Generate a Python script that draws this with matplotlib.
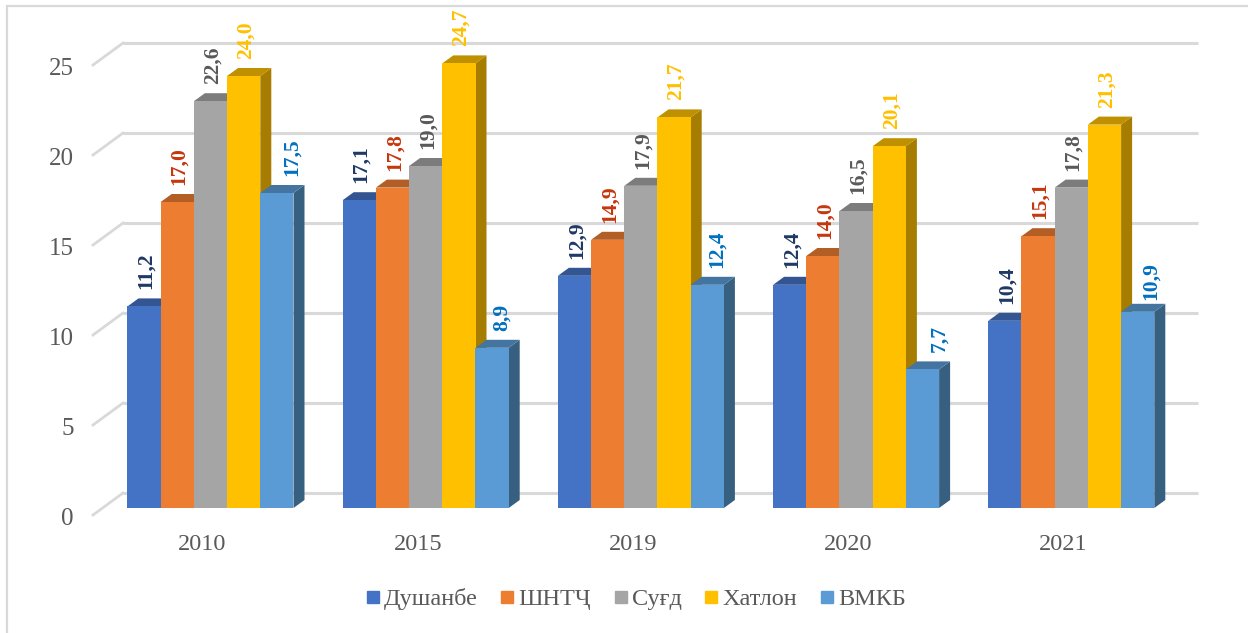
import matplotlib
matplotlib.use("Agg")
import matplotlib.pyplot as plt
from matplotlib.patches import Polygon, Rectangle
from matplotlib.lines import Line2D

years = ['2010', '2015', '2019', '2020', '2021']
regions = ['Душанбе', 'ШНТҶ', 'Суғд', 'Хатлон', 'ВМКБ']
dushanbe = [11.2, 17.1, 12.9, 12.4, 10.4]
shntch = [17.0, 17.8, 14.9, 14.0, 15.1]
sughd = [22.6, 19.0, 17.9, 16.5, 17.8]
khatlon = [24.0, 24.7, 21.7, 20.1, 21.3]
vmkb = [17.5, 8.9, 12.4, 7.7, 10.9]
series = [dushanbe, shntch, sughd, khatlon, vmkb]
yticks = [0, 5, 10, 15, 20, 25]

front = ['#4472C4', '#ED7D31', '#A5A5A5', '#FFC000', '#5B9BD5']
top = ['#335693', '#B25E25', '#7C7C7C', '#BF9000', '#4475A0']
side = ['#294575', '#8E4B1D', '#636363', '#A67D00', '#375F80']
label_colors = ['#1F3864', '#C5370D', '#595959', '#FFC000', '#0070C0']
grey = '#595959'

plt.rcParams['font.family'] = ['Liberation Serif', 'DejaVu Serif']

W, H = 1248, 633
fig = plt.figure(figsize=(W / 100, H / 100), dpi=100)
ax = fig.add_axes([0, 0, 1, 1])

# one category = 215.2 px, one y unit = 18 px
px_x = 1 / 215.2
px_y = 1 / 18
x0_px, y0_px = 210.5, 508
ax.set_xlim(-x0_px * px_x, (W - x0_px) * px_x)
ax.set_ylim(-(H - y0_px) * px_y, y0_px * px_y)
ax.axis('off')

bar_w = 33.2 * px_x
dx, dy = 11 * px_x, 8 * px_y

# the last series has its labels pushed right of the bar, by a different amount per year
vmkb_shift = [15, 10, 10, 17, 13]

# outer frame of the picture
fig.add_artist(Rectangle((7 / W, -0.02), 1.1, 1 - 6 / H + 0.02, transform=fig.transFigure,
                         fill=False, ec='#D9D9D9', lw=1.6))

# back wall gridlines and the slanted floor ticks
grid_l = -87.5 * px_x
grid_r = 987.5 * px_x
back_y = 15 * px_y
for t in yticks:
    ax.plot([grid_l, grid_r], [t + back_y, t + back_y], color='#D9D9D9', lw=2.2, zorder=1,
            solid_capstyle='butt')
    ax.plot([grid_l - 30 * px_x, grid_l], [t - 7 * px_y, t + back_y], color='#D9D9D9', lw=2.0,
            zorder=1)
    ax.text(-136.5 * px_x, t - 11 * px_y, str(t), ha='right', va='center', fontsize=18, color=grey)

for i in range(len(years)):
    for j, vals in enumerate(series):
        v = vals[i]
        left = i + (j - 2.5) * bar_w
        z = 3 + j * 0.1
        # side faces go first, so the next bar covers them
        ax.add_patch(Polygon([(left + bar_w, 0), (left + bar_w + dx, dy),
                              (left + bar_w + dx, v + dy), (left + bar_w, v)],
                             fc=side[j], ec='none', zorder=z))
        ax.add_patch(Polygon([(left, v), (left + dx, v + dy),
                              (left + bar_w + dx, v + dy), (left + bar_w, v)],
                             fc=top[j], ec='none', zorder=z))
        ax.bar(left, v, width=bar_w, align='edge', color=front[j], zorder=z + 0.05)
        shift = vmkb_shift[i] if j == 4 else 2
        gap = 12 if (i, j) == (4, 4) else 17
        ax.text(left + bar_w / 2 + shift * px_x, v + gap * px_y, f'{v:.1f}'.replace('.', ','),
                rotation=90, ha='center', va='bottom', fontsize=15.5, fontweight='bold',
                color=label_colors[j], zorder=6)
    ax.text(i - 8 * px_x, -36 * px_y, years[i], ha='center', va='center', fontsize=17.5, color=grey)

handles = [Line2D([], [], ls='none', marker='s', ms=8.6, color=c) for c in front]
ax.legend(handles, regions, ncol=5, loc='center', bbox_to_anchor=(636 / W, 1 - 599 / H),
          bbox_transform=fig.transFigure, frameon=False, fontsize=17.5, labelcolor=grey,
          handletextpad=0.2, columnspacing=0.98, handlelength=0.5)

fig.savefig('out.png', dpi=100)
